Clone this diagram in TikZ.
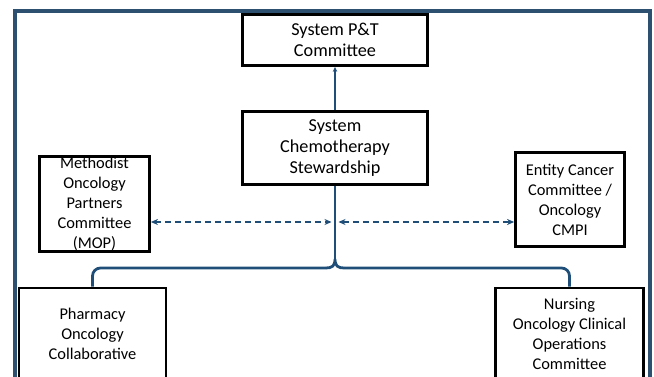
\documentclass[tikz,border=0pt]{standalone}
\usepackage{fontspec}
\setmainfont{Carlito}
\usepackage{xcolor}
\usetikzlibrary{arrows.meta,positioning,calc}
\definecolor{framecol}{HTML}{2E5070}
\definecolor{linkcol}{HTML}{1F4E79}

\begin{document}
\begin{tikzpicture}[
    x=1pt, y=-1pt,
    box/.style={rectangle, draw=black, line width=2.8pt, fill=white, inner sep=0pt, align=center,
        font=\fontsize{16.4}{20}\selectfont},
    bigbox/.style={box, font=\fontsize{18.2}{21}\selectfont},
    arrow/.style={-{Stealth[length=5pt,width=4.5pt]}, line width=2pt, draw=linkcol},
    link/.style={line width=2pt, draw=linkcol},
    brace/.style={line width=2.8pt, draw=linkcol},
    dasharrow/.style={{Stealth[length=7pt,width=6pt]}-{Stealth[length=7pt,width=6pt]}, line width=1.2pt,
        draw=linkcol, dash pattern=on 6pt off 4pt}
]
    \useasboundingbox (0,0) rectangle (654,377);
    \clip (0,0) rectangle (654,377);

    % Outer frame
    \draw[framecol, line width=4pt] (15,390) -- (15,11.5) -- (650,11.5) -- (650,390);

    % P&T committee
    \node[bigbox, minimum width=185pt, minimum height=51pt] (ptc) at (335,40) {System P\&T\\Committee};

    % Stewardship
    \node[bigbox, minimum width=185pt, minimum height=73pt] (chemo) at (335,148) {System\\Chemotherapy\\Stewardship};

    % MOP
    \node[box, minimum width=110pt, minimum height=95pt] (mop) at (94.5,204) {Methodist\\Oncology\\Partners\\Committee\\(MOP)};

    % Entity cancer committee
    \node[box, minimum width=109pt, minimum height=94pt] (entity) at (570,199.5) {Entity Cancer\\Committee /\\Oncology\\CMPI};

    % Pharmacy
    \node[box, minimum width=147pt, minimum height=92pt] (pharm) at (92.5,334) {Pharmacy\\Oncology\\Collaborative};

    % Nursing
    \node[box, minimum width=148pt, minimum height=92pt] (nurse) at (569.5,334) {Nursing\\Oncology Clinical\\Operations\\Committee};

    % Junction points
    \coordinate (hub) at (335,259);
    \coordinate (stem) at (335,237);
    \coordinate (splitL) at (326,268);
    \coordinate (splitR) at (344,268);
    \coordinate (dashL) at (331.5,222);
    \coordinate (dashR) at (338.5,222);

    % Arrows
    \draw[arrow] (chemo) -- (ptc);
    \draw[link] (chemo.south) -- (hub);
    \draw[brace] (stem) -- (hub);
    \draw[brace, rounded corners=8pt] (pharm.north) |- (splitL);
    \draw[brace, rounded corners=8pt] (nurse.north) |- (splitR);
    \draw[brace] (splitL) .. controls (332,268) and (335,266) .. (hub)
        .. controls (335,266) and (338,268) .. (splitR);
    \draw[dasharrow] (mop.east |- dashL) -- (dashL);
    \draw[dasharrow] (dashR) -- (entity.west |- dashR);

\end{tikzpicture}
\end{document}
